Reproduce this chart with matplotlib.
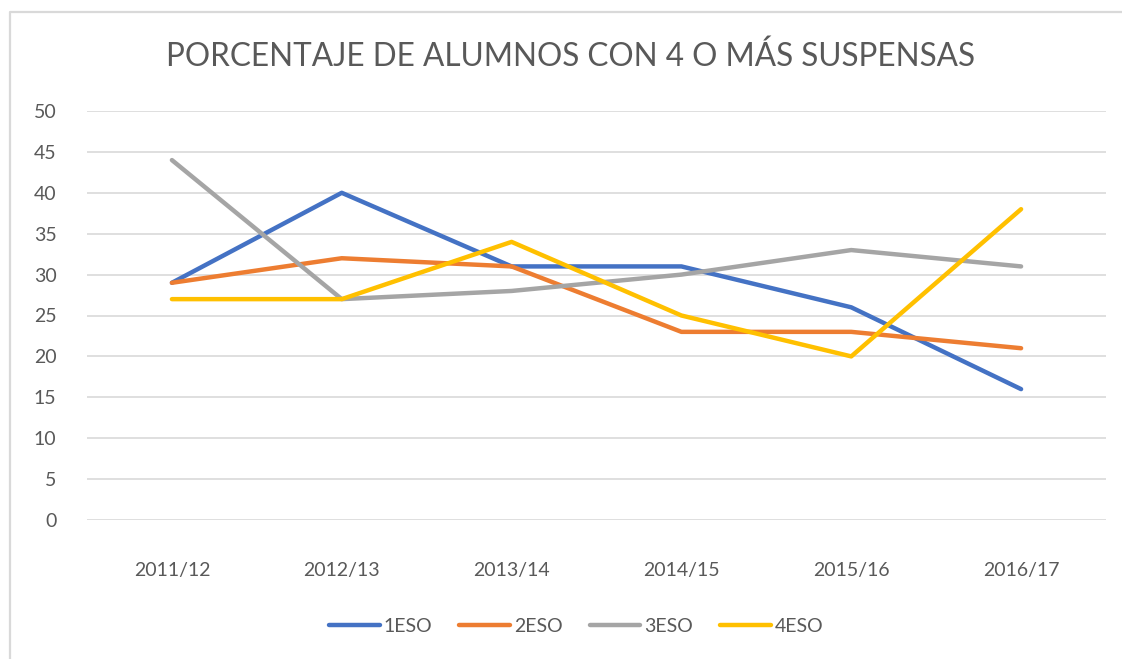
import numpy as np
import matplotlib.pyplot as plt
from matplotlib.lines import Line2D

cursos = ['2011/12', '2012/13', '2013/14', '2014/15', '2015/16', '2016/17']
eso1 = [29, 40, 31, 31, 26, 16]
eso2 = [29, 32, 31, 23, 23, 21]
eso3 = [44, 27, 28, 30, 33, 31]
eso4 = [27, 27, 34, 25, 20, 38]
nombres = ['1ESO', '2ESO', '3ESO', '4ESO']
colores = ['#4472C4', '#ED7D31', '#A5A5A5', '#FFC000']

plt.rcParams['font.family'] = ['Lato', 'DejaVu Sans']

W, H = 1122, 659
fig = plt.figure(figsize=[W / 100, H / 100], dpi=100)

# borde gris del grafico (solo izquierda y arriba, el resto queda recortado)
fig.add_artist(Line2D([9.5 / W, 9.5 / W, 1.0], [0.0, 1 - 11.5 / H, 1 - 11.5 / H],
                      transform=fig.transFigure, color='#d9d9d9', linewidth=1.6))

ax = fig.add_axes([87 / W, 1 - 520 / H, (1106 - 87) / W, (520 - 111) / H])
x = np.arange(len(cursos))
for serie, nombre, c in zip([eso1, eso2, eso3, eso4], nombres, colores):
    ax.plot(x, serie, color=c, linewidth=3.2, label=nombre, solid_capstyle='round',
            solid_joinstyle='round')

ax.set_xlim(-0.5, len(cursos) - 0.5)
ax.set_ylim(0, 50)
ax.set_yticks(range(0, 51, 5))
ax.set_xticks(x)
ax.set_xticklabels(cursos)
ax.grid(axis='y', color='#d9d9d9', linewidth=1.2)
ax.set_axisbelow(True)
for s in ax.spines.values():
    s.set_visible(False)
ax.tick_params(length=0, labelsize=14, labelcolor='#595959')
ax.tick_params(axis='y', pad=22)
ax.tick_params(axis='x', pad=30)

fig.text(571 / W, 1 - 57 / H, 'PORCENTAJE DE ALUMNOS CON 4 O MÁS SUSPENSAS',
         ha='center', va='center', fontsize=22.7, color='#595959')

handles = [Line2D([], [], color=c, linewidth=3.2, solid_capstyle='round') for c in colores]
fig.legend(handles, nombres, loc='center', bbox_to_anchor=(576 / W, 1 - 626 / H),
           ncol=4, frameon=False, fontsize=14, labelcolor='#595959',
           handlelength=2.6, handletextpad=0.2, columnspacing=1.4)

plt.savefig('out.png', dpi=100)
